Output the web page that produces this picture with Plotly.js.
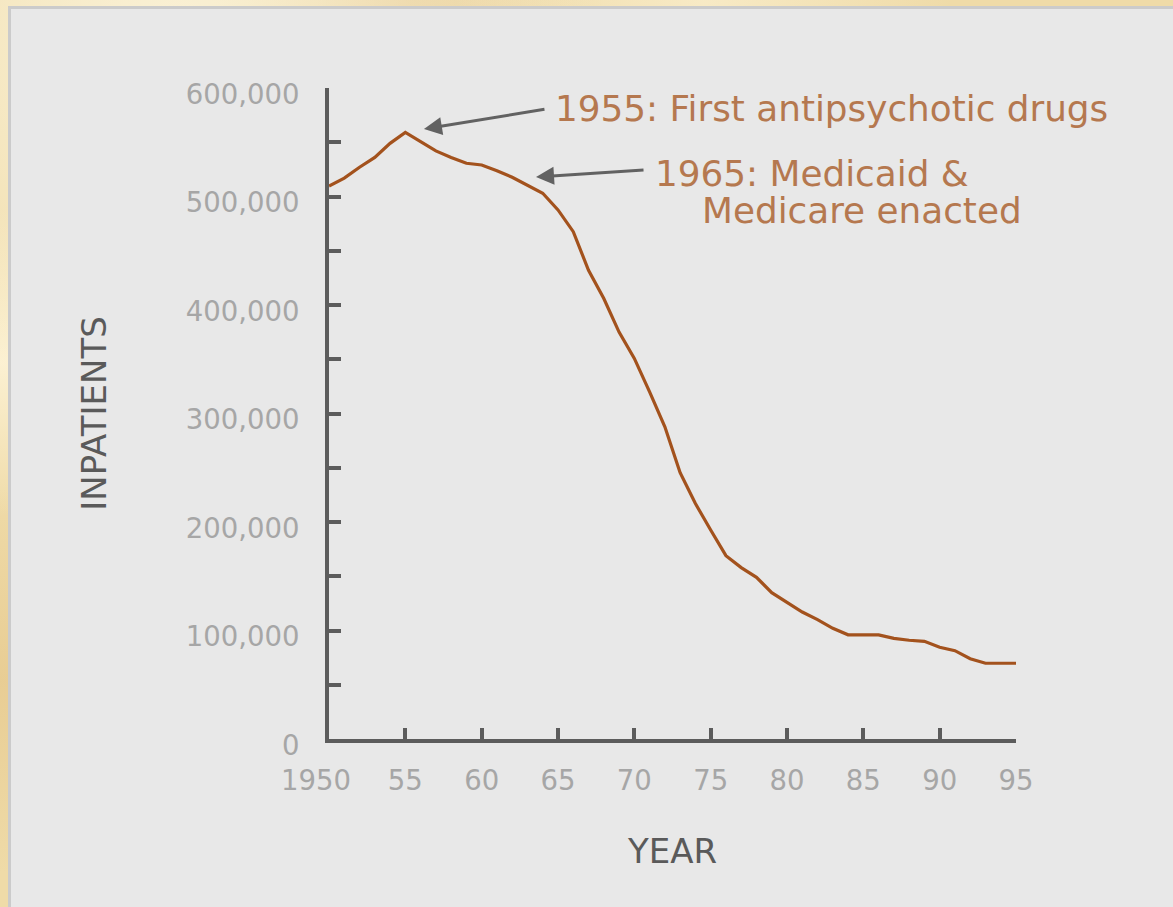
<!DOCTYPE html>
<html>
<head>
<meta charset="utf-8">
<script src="https://cdn.plot.ly/plotly-3.0.1.min.js"></script>
<style>
html, body { margin:0; padding:0; width:1173px; height:907px; overflow:hidden; }
body {
  background-color:#efdba8;
  background-image:
    radial-gradient(ellipse at 15% 5%, rgba(255,250,232,0.75), rgba(255,250,232,0) 30%),
    radial-gradient(ellipse at 60% 0%, rgba(250,238,205,0.8), rgba(250,238,205,0) 25%),
    radial-gradient(ellipse at 0% 40%, rgba(255,246,220,0.8), rgba(255,246,220,0) 20%),
    radial-gradient(ellipse at 0% 75%, rgba(228,196,135,0.6), rgba(228,196,135,0) 20%),
    radial-gradient(ellipse at 35% 0%, rgba(226,195,135,0.6), rgba(226,195,135,0) 18%);
}
#panel { position:absolute; left:8px; top:6px; width:1165px; height:901px; box-sizing:border-box;
  border-top:3px solid #cbcbcb; border-left:3px solid #cbcbcb; background:#e8e8e8; }
#chart { position:absolute; left:0; top:0; width:1162px; height:898px; }
</style>
</head>
<body>
<div id="panel"><div id="chart"></div></div>
<script>
// ---- data ----
const years = [1950,1951,1952,1953,1954,1955,1956,1957,1958,1959,
               1960,1961,1962,1963,1964,1965,1966,1967,1968,1969,
               1970,1971,1972,1973,1974,1975,1976,1977,1978,1979,
               1980,1981,1982,1983,1984,1985,1986,1987,1988,1989,
               1990,1991,1992,1993,1994,1995];
const inpatients = [509700,517000,527000,536000,549000,559000,550500,542000,536000,530600,
                    529000,523800,517700,510600,503000,487600,467600,432000,406000,375000,
                    350800,320000,287800,245500,217000,192600,169000,158000,149000,134900,
                    125600,117000,110000,102000,96000,96000,96000,92800,91000,90000,
                    84500,81400,74000,69800,69800,69800];
const xTickVals = [1950,1955,1960,1965,1970,1975,1980,1985,1990,1995];
const xTickLabels = ["1950","55","60","65","70","75","80","85","90","95"];
const note1955 = "1955: First antipsychotic drugs";
const note1965a = "1965: Medicaid &";
const note1965b = "Medicare enacted";

const FONT = "DejaVu Sans, Verdana, sans-serif";
const AXC = "#5c5c5c";
const LBL = "#a6a6a6";
const NOTE = "#b5784f";

const trace = {
  x: years, y: inpatients, type: "scatter", mode: "lines",
  line: { color: "#a3521d", width: 3.2 }, hoverinfo: "skip", cliponaxis: false
};

const xTickText = xTickLabels.map((t, i) => i === 0 ? t + "\u00a0\u00a0\u00a0" : t);

const layout = {
  width: 1162, height: 898,
  margin: { l: 318, r: 157, t: 79, b: 168, pad: 0 },
  paper_bgcolor: "#e8e8e8", plot_bgcolor: "#e8e8e8",
  showlegend: false,
  xaxis: {
    range: [1950, 1995], tickmode: "array", tickvals: xTickVals, ticktext: xTickText,
    ticks: "inside", ticklen: 11, tickwidth: 4, tickcolor: AXC,
    showline: true, linecolor: AXC, linewidth: 4, showgrid: false, zeroline: false,
    tickfont: { family: FONT, size: 27.5, color: LBL }, ticklabelstandoff: 14,
    title: { text: "YEAR", font: { family: FONT, size: 34, color: "#5a5a5a" }, standoff: 45 },
    fixedrange: true
  },
  yaxis: {
    range: [0, 600000], dtick: 100000, tickformat: ",d",
    ticks: "inside", ticklen: 12, tickwidth: 4, tickcolor: AXC,
    minor: { dtick: 50000, ticks: "inside", ticklen: 12, tickwidth: 4, tickcolor: AXC, showgrid: false },
    showline: true, linecolor: AXC, linewidth: 4, showgrid: false, zeroline: false,
    tickfont: { family: FONT, size: 27.5, color: LBL }, ticklabelstandoff: 20, ticklabelshift: 6,
    title: { text: "INPATIENTS", font: { family: FONT, size: 34, color: "#5a5a5a" }, standoff: 70 },
    fixedrange: true
  },
  annotations: [
    { x: 1964.67, y: 581100, xref: "x", yref: "y", xanchor: "left", yanchor: "middle",
      text: note1955, showarrow: false, font: { family: FONT, size: 35.8, color: NOTE } },
    { x: 1971.22, y: 521200, xref: "x", yref: "y", xanchor: "left", yanchor: "middle",
      text: note1965a, showarrow: false, font: { family: FONT, size: 35.8, color: NOTE } },
    { x: 1974.3, y: 487100, xref: "x", yref: "y", xanchor: "left", yanchor: "middle",
      text: note1965b, showarrow: false, font: { family: FONT, size: 35.8, color: NOTE } },
    { x: 1956.22, y: 562200, xref: "x", yref: "y", text: "", showarrow: true,
      ax: 122, ay: -20, arrowhead: 2, arrowsize: 1.2, arrowwidth: 3, arrowcolor: "#626262", standoff: 0 },
    { x: 1963.56, y: 518000, xref: "x", yref: "y", text: "", showarrow: true,
      ax: 109, ay: -7, arrowhead: 2, arrowsize: 1.2, arrowwidth: 3, arrowcolor: "#626262", standoff: 0 }
  ]
};

Plotly.newPlot("chart", [trace], layout, { displayModeBar: false, staticPlot: true });
</script>
</body>
</html>
